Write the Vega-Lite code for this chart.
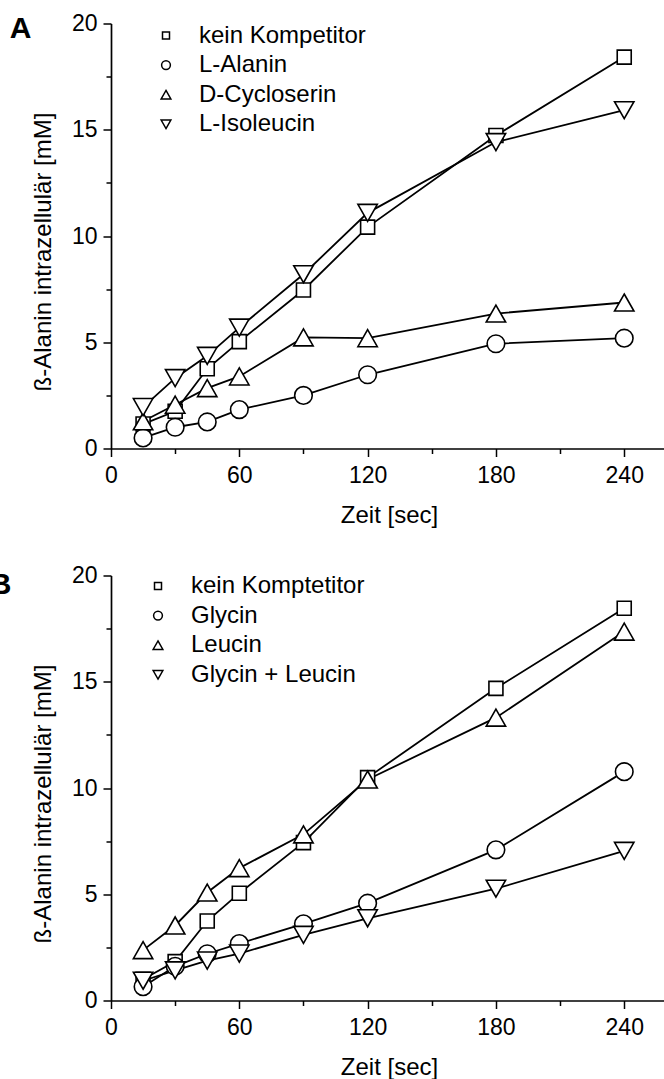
{
  "$schema": "https://vega.github.io/schema/vega-lite/v6.json",
  "background": "white",
  "padding": {"left": -11, "top": 12.5, "right": 0, "bottom": 0},
  "config": {
    "view": {"stroke": null},
    "font": "Liberation Sans",
    "axis": {"grid": false, "domainColor": "black", "domainWidth": 1.7, "tickColor": "black", "tickWidth": 1.5, "labelColor": "black", "titleColor": "black", "labelFont": "Liberation Sans", "titleFont": "Liberation Sans", "labelFontSize": 23, "titleFontSize": 24, "titleFontWeight": "normal", "tickSize": 8, "labelFlush": false},
    "legend": {"orient": "none", "title": null, "labelOffset": 21, "labelFontSize": 24, "labelFont": "Liberation Sans", "labelColor": "black", "rowPadding": 5.6, "padding": 0, "labelLimit": 400}
  },
  "datasets": {
    "A": [
      {"s": "kein Kompetitor", "t": 15, "v": 1.15}, {"s": "kein Kompetitor", "t": 30, "v": 1.75}, {"s": "kein Kompetitor", "t": 45, "v": 3.75}, {"s": "kein Kompetitor", "t": 60, "v": 5.03}, {"s": "kein Kompetitor", "t": 90, "v": 7.46}, {"s": "kein Kompetitor", "t": 120, "v": 10.42}, {"s": "kein Kompetitor", "t": 180, "v": 14.73}, {"s": "kein Kompetitor", "t": 240, "v": 18.42},
      {"s": "L-Alanin", "t": 15, "v": 0.5}, {"s": "L-Alanin", "t": 30, "v": 1.0}, {"s": "L-Alanin", "t": 45, "v": 1.25}, {"s": "L-Alanin", "t": 60, "v": 1.83}, {"s": "L-Alanin", "t": 90, "v": 2.5}, {"s": "L-Alanin", "t": 120, "v": 3.47}, {"s": "L-Alanin", "t": 180, "v": 4.93}, {"s": "L-Alanin", "t": 240, "v": 5.19},
      {"s": "D-Cycloserin", "t": 15, "v": 1.28}, {"s": "D-Cycloserin", "t": 30, "v": 2.06}, {"s": "D-Cycloserin", "t": 45, "v": 2.84}, {"s": "D-Cycloserin", "t": 60, "v": 3.39}, {"s": "D-Cycloserin", "t": 90, "v": 5.23}, {"s": "D-Cycloserin", "t": 120, "v": 5.19}, {"s": "D-Cycloserin", "t": 180, "v": 6.35}, {"s": "D-Cycloserin", "t": 240, "v": 6.87},
      {"s": "L-Isoleucin", "t": 15, "v": 1.95}, {"s": "L-Isoleucin", "t": 30, "v": 3.31}, {"s": "L-Isoleucin", "t": 45, "v": 4.36}, {"s": "L-Isoleucin", "t": 60, "v": 5.69}, {"s": "L-Isoleucin", "t": 90, "v": 8.2}, {"s": "L-Isoleucin", "t": 120, "v": 11.09}, {"s": "L-Isoleucin", "t": 180, "v": 14.42}, {"s": "L-Isoleucin", "t": 240, "v": 15.92}
    ],
    "B": [
      {"s": "kein Komptetitor", "t": 15, "v": 1.0}, {"s": "kein Komptetitor", "t": 30, "v": 1.83}, {"s": "kein Komptetitor", "t": 45, "v": 3.74}, {"s": "kein Komptetitor", "t": 60, "v": 5.05}, {"s": "kein Komptetitor", "t": 90, "v": 7.43}, {"s": "kein Komptetitor", "t": 120, "v": 10.49}, {"s": "kein Komptetitor", "t": 180, "v": 14.69}, {"s": "kein Komptetitor", "t": 240, "v": 18.46},
      {"s": "Glycin", "t": 15, "v": 0.65}, {"s": "Glycin", "t": 30, "v": 1.61}, {"s": "Glycin", "t": 45, "v": 2.2}, {"s": "Glycin", "t": 60, "v": 2.68}, {"s": "Glycin", "t": 90, "v": 3.61}, {"s": "Glycin", "t": 120, "v": 4.58}, {"s": "Glycin", "t": 180, "v": 7.09}, {"s": "Glycin", "t": 240, "v": 10.77},
      {"s": "Leucin", "t": 15, "v": 2.37}, {"s": "Leucin", "t": 30, "v": 3.53}, {"s": "Leucin", "t": 45, "v": 5.08}, {"s": "Leucin", "t": 60, "v": 6.23}, {"s": "Leucin", "t": 90, "v": 7.82}, {"s": "Leucin", "t": 120, "v": 10.4}, {"s": "Leucin", "t": 180, "v": 13.31}, {"s": "Leucin", "t": 240, "v": 17.36},
      {"s": "Glycin + Leucin", "t": 15, "v": 0.93}, {"s": "Glycin + Leucin", "t": 30, "v": 1.42}, {"s": "Glycin + Leucin", "t": 45, "v": 1.88}, {"s": "Glycin + Leucin", "t": 60, "v": 2.21}, {"s": "Glycin + Leucin", "t": 90, "v": 3.09}, {"s": "Glycin + Leucin", "t": 120, "v": 3.87}, {"s": "Glycin + Leucin", "t": 180, "v": 5.26}, {"s": "Glycin + Leucin", "t": 240, "v": 7.04}
    ]
  },
  "resolve": {"scale": {"shape": "independent"}, "legend": {"shape": "independent"}},
  "spacing": 37,
  "vconcat": [
    {
      "title": {"text": "A", "orient": "left", "anchor": "end", "angle": 0, "align": "left", "baseline": "top", "frame": "group", "fontSize": 30, "fontWeight": "bold", "font": "Liberation Sans", "color": "black", "dy": -10, "offset": 0},
      "width": 556,
      "height": 425,
      "data": {"name": "A"},
      "resolve": {"axis": {"x": "independent", "y": "independent"}},
      "layer": [
        {
          "mark": {"type": "line", "color": "black", "strokeWidth": 1.8},
          "encoding": {
            "x": {"field": "t", "type": "quantitative", "scale": {"domain": [0, 260], "nice": false, "zero": false}, "axis": {"values": [0, 60, 120, 180, 240], "title": "Zeit [sec]", "labelPadding": 8, "titlePadding": 16, "orient": "bottom"}},
            "y": {"field": "v", "type": "quantitative", "scale": {"domain": [0, 20], "nice": false}, "axis": {"values": [0, 5, 10, 15, 20], "title": "ß-Alanin intrazellulär [mM]", "labelPadding": 6, "titlePadding": 16, "titleY": 228, "orient": "left"}},
            "detail": {"field": "s", "type": "nominal"}
          }
        },
        {
          "mark": {"type": "point", "filled": true, "fill": "white", "stroke": "black", "strokeWidth": 1.6, "size": 400, "opacity": 1},
          "encoding": {
            "x": {"field": "t", "type": "quantitative", "axis": null},
            "y": {"field": "v", "type": "quantitative", "axis": null},
            "shape": {"field": "s", "type": "nominal",
              "scale": {"domain": ["kein Kompetitor", "L-Alanin", "D-Cycloserin", "L-Isoleucin"], "range": ["M-0.7,-0.7H0.7V0.7H-0.7Z", "M0.88,0A0.88,0.88,0,1,1,-0.88,0A0.88,0.88,0,1,1,0.88,0Z", "M0,-0.85L0.97,0.85L-0.97,0.85Z", "M0,0.85L0.97,-0.85L-0.97,-0.85Z"]},
              "legend": {"legendX": 43, "legendY": 0, "encode": {"symbols": {"shape": {"value": {"expr": "datum.value === 'kein Kompetitor' ? 'M-6.4,0H-0.84M0.84,0H6.4M-0.84,-0.84H0.84V0.84H-0.84Z' : datum.value === 'L-Alanin' ? 'M-6.4,0H-1.2M1.2,0H6.4M1.2,0A1.2,1.2,0,1,1,-1.2,0A1.2,1.2,0,1,1,1.2,0Z' : datum.value === 'D-Cycloserin' ? 'M-6.4,0H-0.9M0.9,0H6.4M0,-1.3L1.8,1.3L-1.8,1.3Z' : 'M-6.4,0H-0.9M0.9,0H6.4M0,1.3L1.8,-1.3L-1.8,-1.3Z'"}}}}}
            }
          }
        },
        {
          "mark": {"type": "point", "size": 0, "strokeWidth": 0, "filled": false},
          "encoding": {
            "x": {"field": "t", "type": "quantitative", "axis": {"values": [30, 90, 150, 210], "labels": false, "tickSize": 5, "domain": false, "title": null, "orient": "bottom"}},
            "y": {"field": "v", "type": "quantitative", "axis": {"values": [2.5, 7.5, 12.5, 17.5], "labels": false, "tickSize": 5, "domain": false, "title": null, "orient": "left"}}
          }
        }
      ]
    },
    {
      "title": {"text": "B", "orient": "left", "anchor": "end", "angle": 0, "align": "left", "baseline": "top", "frame": "group", "fontSize": 30, "fontWeight": "bold", "font": "Liberation Sans", "color": "black", "dy": -5.5, "offset": 20},
      "width": 556,
      "height": 425,
      "data": {"name": "B"},
      "resolve": {"axis": {"x": "independent", "y": "independent"}},
      "layer": [
        {
          "mark": {"type": "line", "color": "black", "strokeWidth": 1.8},
          "encoding": {
            "x": {"field": "t", "type": "quantitative", "scale": {"domain": [0, 260], "nice": false, "zero": false}, "axis": {"values": [0, 60, 120, 180, 240], "title": "Zeit [sec]", "labelPadding": 8, "titlePadding": 16, "orient": "bottom"}},
            "y": {"field": "v", "type": "quantitative", "scale": {"domain": [0, 20], "nice": false}, "axis": {"values": [0, 5, 10, 15, 20], "title": "ß-Alanin intrazellulär [mM]", "labelPadding": 6, "titlePadding": 16, "titleY": 228, "orient": "left"}},
            "detail": {"field": "s", "type": "nominal"}
          }
        },
        {
          "mark": {"type": "point", "filled": true, "fill": "white", "stroke": "black", "strokeWidth": 1.6, "size": 400, "opacity": 1},
          "encoding": {
            "x": {"field": "t", "type": "quantitative", "axis": null},
            "y": {"field": "v", "type": "quantitative", "axis": null},
            "shape": {"field": "s", "type": "nominal",
              "scale": {"domain": ["kein Komptetitor", "Glycin", "Leucin", "Glycin + Leucin"], "range": ["M-0.7,-0.7H0.7V0.7H-0.7Z", "M0.88,0A0.88,0.88,0,1,1,-0.88,0A0.88,0.88,0,1,1,0.88,0Z", "M0,-0.85L0.97,0.85L-0.97,0.85Z", "M0,0.85L0.97,-0.85L-0.97,-0.85Z"]},
              "legend": {"legendX": 35, "legendY": -1.5, "encode": {"symbols": {"shape": {"value": {"expr": "datum.value === 'kein Komptetitor' ? 'M-6.4,0H-0.84M0.84,0H6.4M-0.84,-0.84H0.84V0.84H-0.84Z' : datum.value === 'Glycin' ? 'M-6.4,0H-1.2M1.2,0H6.4M1.2,0A1.2,1.2,0,1,1,-1.2,0A1.2,1.2,0,1,1,1.2,0Z' : datum.value === 'Leucin' ? 'M-6.4,0H-0.9M0.9,0H6.4M0,-1.3L1.8,1.3L-1.8,1.3Z' : 'M-6.4,0H-0.9M0.9,0H6.4M0,1.3L1.8,-1.3L-1.8,-1.3Z'"}}}}}
            }
          }
        },
        {
          "mark": {"type": "point", "size": 0, "strokeWidth": 0, "filled": false},
          "encoding": {
            "x": {"field": "t", "type": "quantitative", "axis": {"values": [30, 90, 150, 210], "labels": false, "tickSize": 5, "domain": false, "title": null, "orient": "bottom"}},
            "y": {"field": "v", "type": "quantitative", "axis": {"values": [2.5, 7.5, 12.5, 17.5], "labels": false, "tickSize": 5, "domain": false, "title": null, "orient": "left"}}
          }
        }
      ]
    }
  ]
}
